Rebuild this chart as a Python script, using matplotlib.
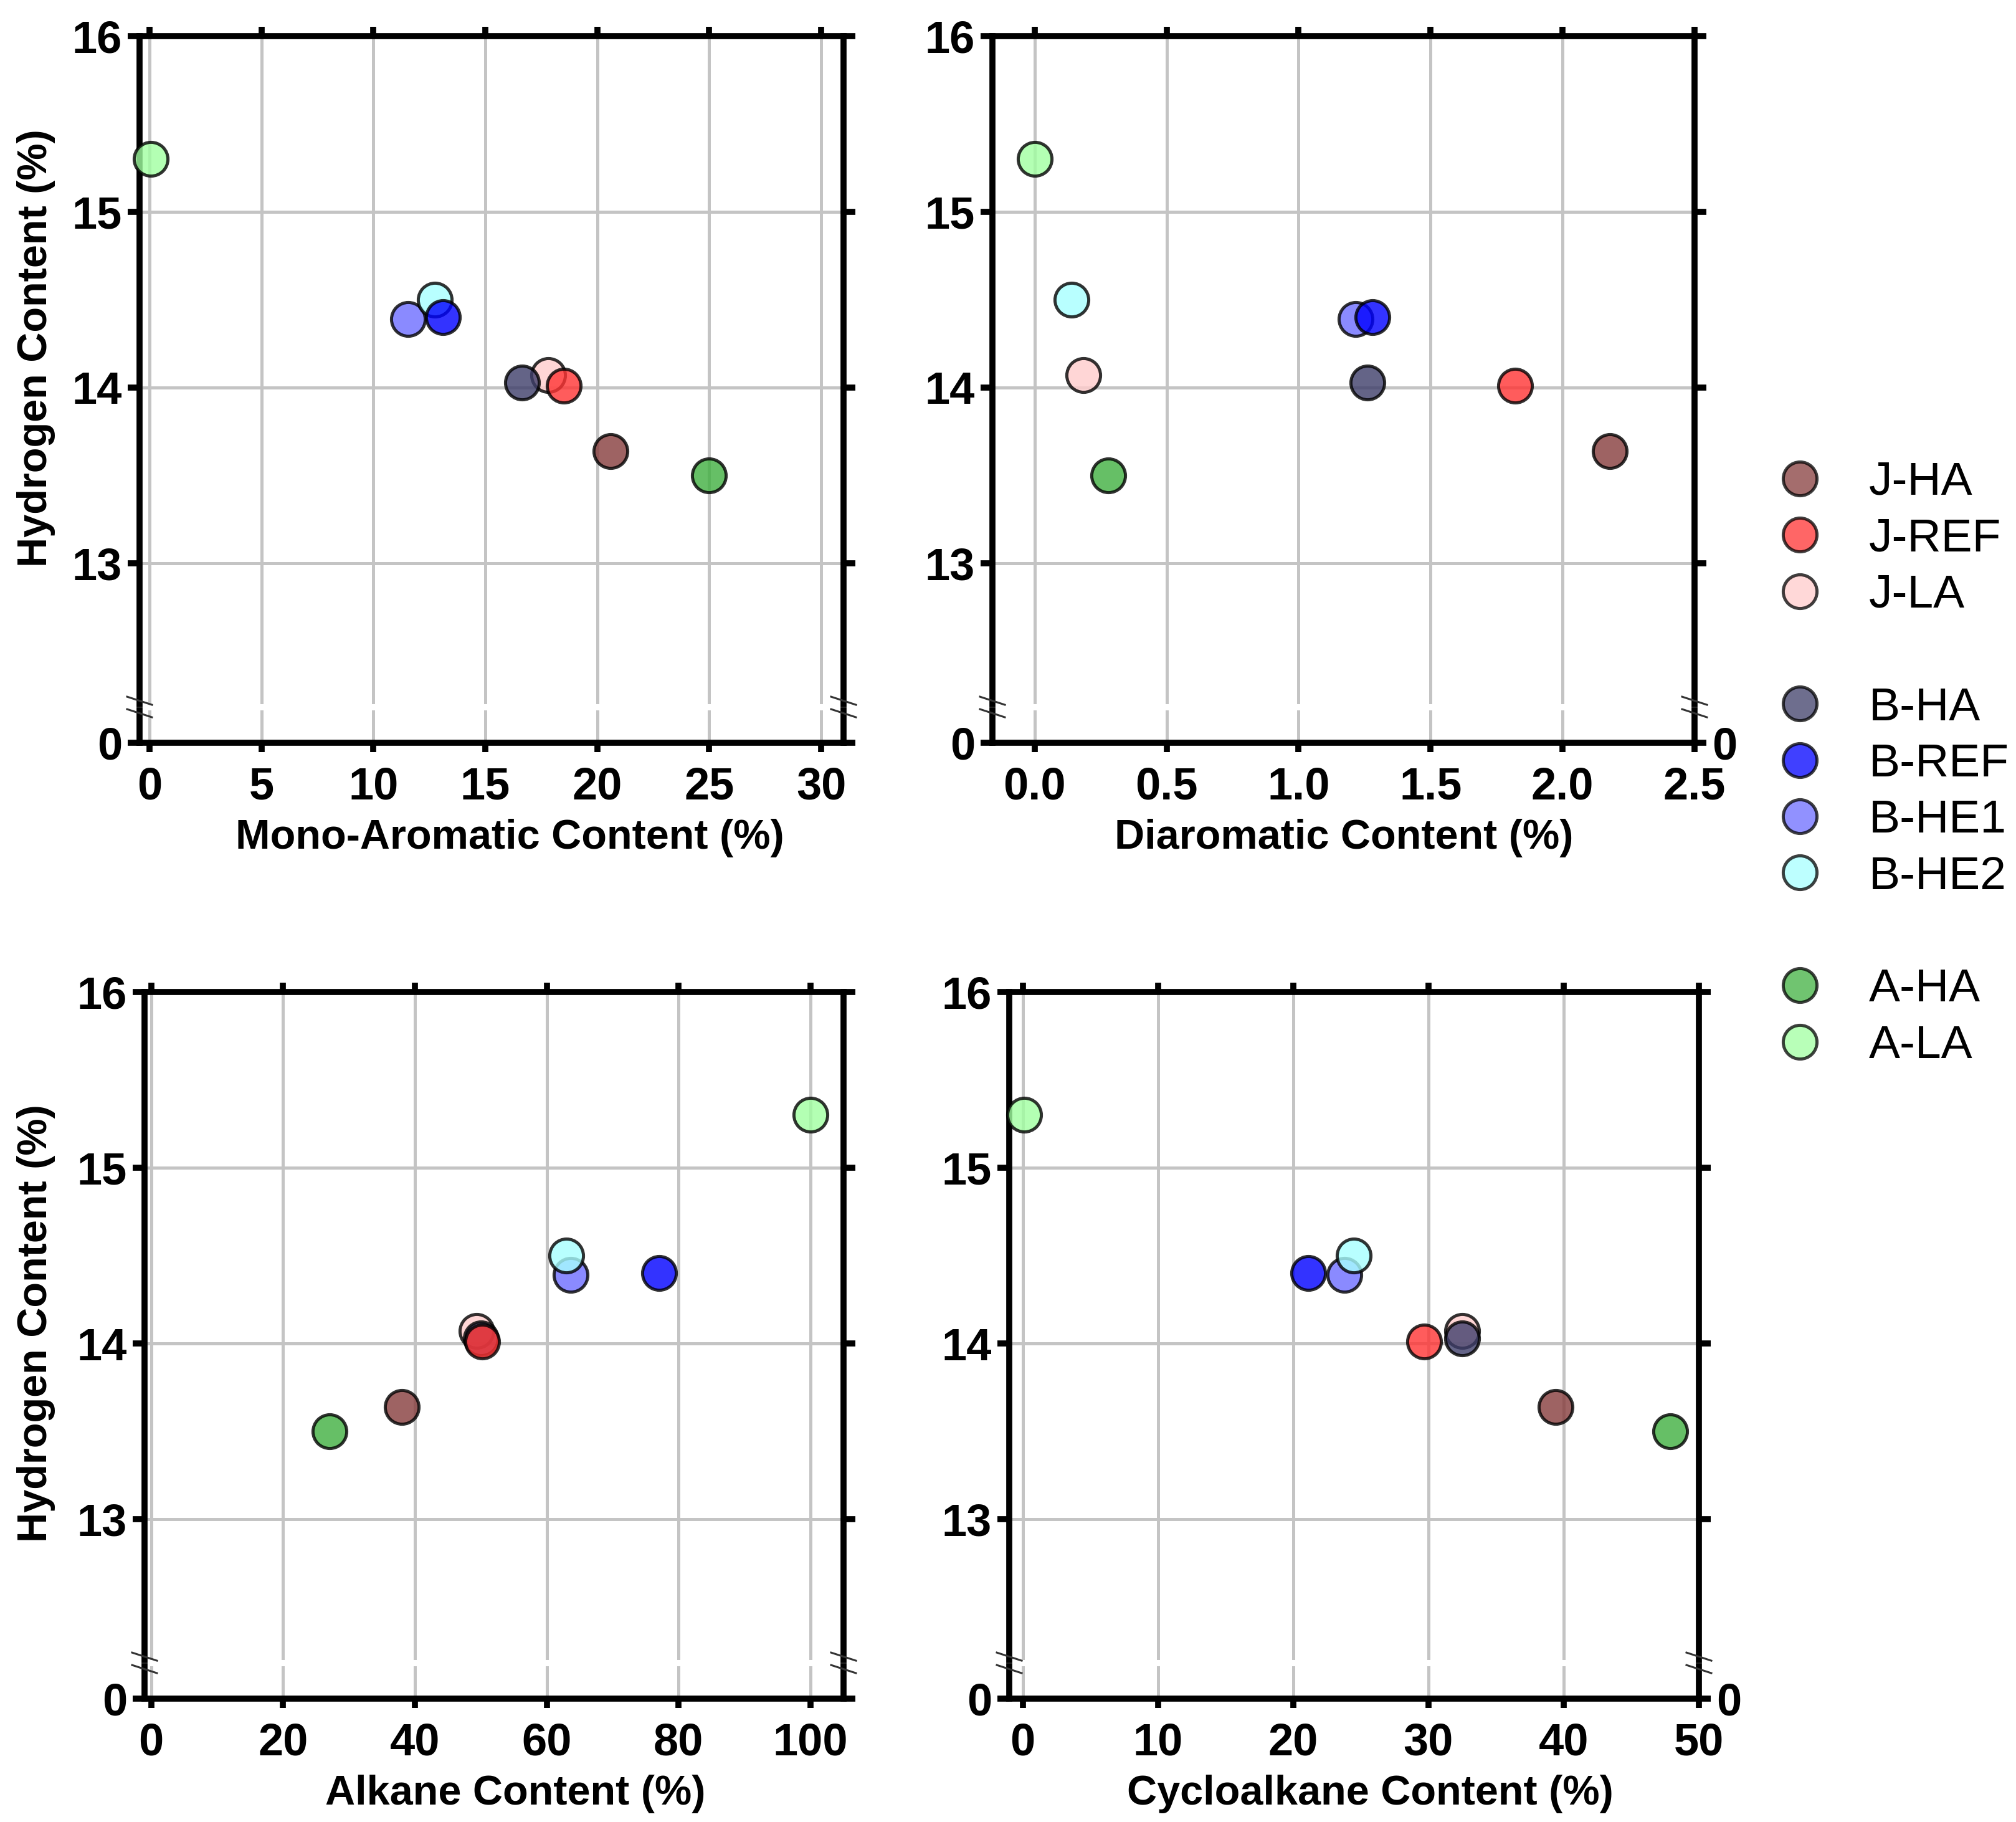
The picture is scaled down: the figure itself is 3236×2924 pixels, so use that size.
import matplotlib
matplotlib.use('Agg')
import matplotlib.pyplot as plt
from matplotlib.lines import Line2D
from matplotlib.ticker import FormatStrFormatter

# Data
samples = ['J-HA', 'J-REF', 'J-LA', 'B-HA', 'B-REF', 'B-HE1', 'B-HE2', 'A-HA', 'A-LA']
colors = ['#863c3c', '#ff3333', '#ffcccc', '#3d3d69', '#0000ff', '#6d6dff', '#a7ffff', '#40b040', '#a0ffa0']
hydrogen = [13.64, 14.01, 14.07, 14.03, 14.40, 14.39, 14.50, 13.50, 15.30]
mono_aromatic = [20.6, 18.5, 17.8, 16.65, 13.1, 11.55, 12.75, 25.0, 0.05]
diaromatic = [2.18, 1.82, 0.185, 1.26, 1.28, 1.215, 0.14, 0.28, 0.0]
alkane = [38.0, 50.2, 49.4, 50.0, 77.0, 63.6, 63.0, 27.1, 100.0]
cycloalkane = [39.4, 29.7, 32.5, 32.5, 21.1, 23.8, 24.5, 47.9, 0.1]
draw_order = ['A-LA', 'A-HA', 'J-LA', 'B-HE1', 'B-HE2', 'B-REF', 'B-HA', 'J-REF', 'J-HA']
legend_groups = [['J-HA', 'J-REF', 'J-LA'], ['B-HA', 'B-REF', 'B-HE1', 'B-HE2'], ['A-HA', 'A-LA']]

plt.rcParams['font.family'] = ['Liberation Sans', 'DejaVu Sans']
plt.rcParams['font.weight'] = 'bold'

W, H = 3237, 2924
fig = plt.figure(figsize=(W / 200, H / 200), dpi=200)
PPU = 282      # pixels per 1 % hydrogen
GAP = 10       # gap of the axis break (px)
BOT_H = 52     # height of the "0" segment (px)
LW = 3.5
TICK_FS = 26
grid_kw = dict(color='#c4c4c4', linewidth=1.8)


def fx(px):
    return px / W


def fy(py):
    return 1 - py / H


def panel(left, right, top, xvals, xlabel, xticks, xlim, xfmt, xlab_cx, ylab, right_zero):
    brk = top + (16 - 12.2) * PPU
    bottom = brk + GAP + BOT_H
    ax = fig.add_axes([fx(left), fy(brk), (right - left) / W, (brk - top) / H])
    axb = fig.add_axes([fx(left), fy(bottom), (right - left) / W, BOT_H / H])

    ax.set_ylim(12.2, 16)
    ax.set_yticks([13, 14, 15, 16])
    axb.set_ylim(0, BOT_H / PPU)
    axb.set_yticks([0])
    for a in (ax, axb):
        a.set_xlim(*xlim)
        a.set_xticks(xticks)
        a.xaxis.set_major_formatter(FormatStrFormatter(xfmt))
        for s in a.spines.values():
            s.set_linewidth(LW)
        a.grid(True, axis='x', **grid_kw)
        a.set_axisbelow(True)
    ax.grid(True, axis='y', **grid_kw)
    ax.spines['bottom'].set_visible(False)
    axb.spines['top'].set_visible(False)

    ax.tick_params(axis='x', which='both', bottom=False, labelbottom=False, top=True,
                   direction='out', length=5.5, width=LW)
    ax.tick_params(axis='y', left=True, right=True, direction='out', length=7, width=LW,
                   labelsize=TICK_FS, pad=3)
    axb.tick_params(axis='x', bottom=True, top=False, direction='out', length=5.5, width=LW,
                    labelsize=TICK_FS, pad=8)
    axb.tick_params(axis='y', left=True, right=True, direction='out', length=7, width=LW,
                    labelsize=TICK_FS, pad=3, labelright=right_zero)

    for name in draw_order:
        i = samples.index(name)
        ax.scatter(xvals[i], hydrogen[i], s=19.5 ** 2, color=colors[i], alpha=0.8,
                   edgecolors='black', linewidths=1.8, zorder=3, clip_on=False)

    # axis break marks
    for xs in (left, right):
        for yc in (brk - 5, brk + GAP + 5):
            fig.add_artist(Line2D([fx(xs - 20), fx(xs + 20)], [fy(yc - 6.5), fy(yc + 6.5)],
                                  transform=fig.transFigure, color='#333333', linewidth=1.1))

    fig.text(fx(xlab_cx), fy(bottom + 122), xlabel, ha='center', va='top', fontsize=24,
             fontweight='bold')
    if ylab is not None:
        fig.text(fx(ylab[0]), fy(ylab[1]), 'Hydrogen Content (%)', rotation=90, ha='center',
                 va='center', fontsize=24, fontweight='bold')
    return ax


panel(224, 1354, 58, mono_aromatic, 'Mono-Aromatic Content (%)', range(0, 31, 5),
      (-0.45, 31.0), '%d', 818, (58, 559), False)
panel(1593, 2720, 58, diaromatic, 'Diaromatic Content (%)', [0, 0.5, 1.0, 1.5, 2.0, 2.5],
      (-0.16, 2.5), '%.1f', 2157, None, True)
panel(232, 1354, 1592, alkane, 'Alkane Content (%)', range(0, 101, 20),
      (-1.0, 105.0), '%d', 827, (58, 2124), False)
panel(1620, 2727, 1592, cycloalkane, 'Cycloalkane Content (%)', range(0, 51, 10),
      (-1.0, 50.0), '%d', 2199, None, True)

# legend with blank rows between the groups
handles = []
for g, group in enumerate(legend_groups):
    if g > 0:
        handles.append(Line2D([], [], linestyle='none', label=' '))
    for name in group:
        i = samples.index(name)
        handles.append(Line2D([], [], linestyle='none', marker='o', markersize=19.5,
                              markerfacecolor=colors[i], alpha=0.75, markeredgecolor='black',
                              markeredgewidth=1.8, label=name))
fig.legend(handles=handles, loc='upper left', bbox_to_anchor=(fx(2852), fy(740)),
           frameon=False, borderpad=0, borderaxespad=0, handlelength=1.0,
           handletextpad=0.97, labelspacing=0.285,
           prop={'family': 'Liberation Sans', 'weight': 'normal', 'size': 27})

fig.savefig('out.png', dpi=200)
